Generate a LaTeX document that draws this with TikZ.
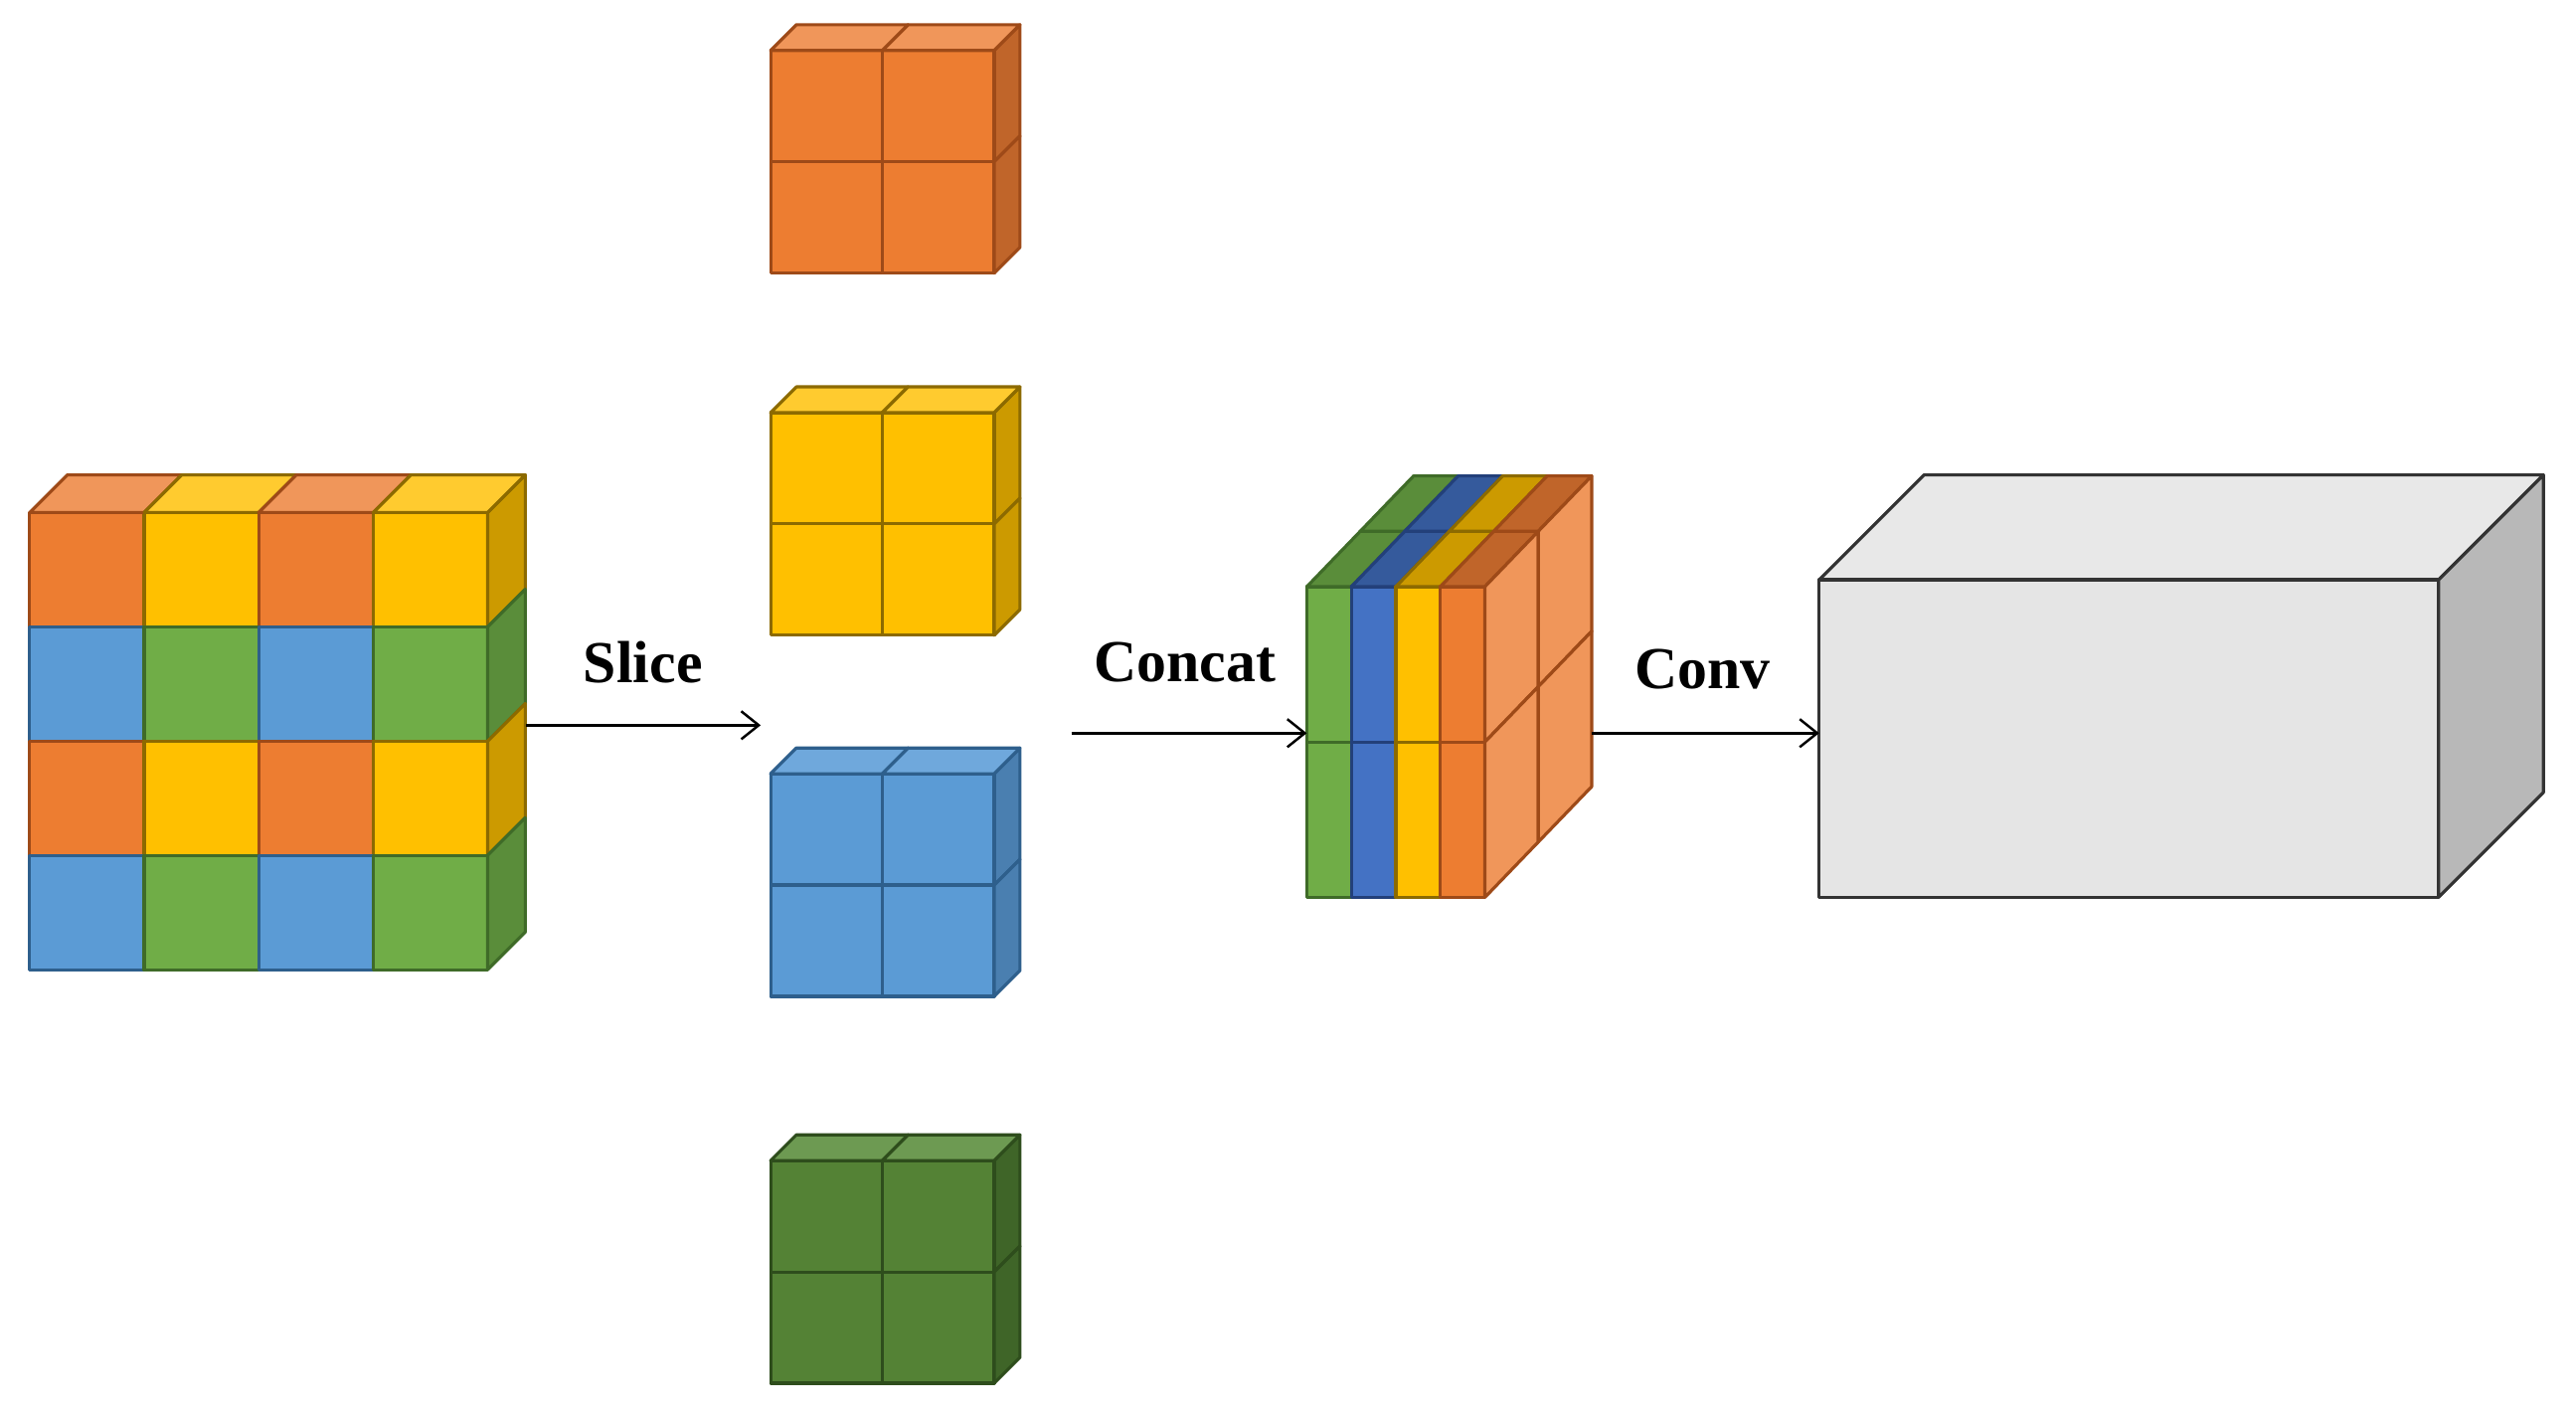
\documentclass[tikz,border=0pt]{standalone}
\usetikzlibrary{arrows.meta}
\usepackage{fontspec}
\setmainfont{Liberation Serif}
\begin{document}
\begin{tikzpicture}[x=0.01cm,y=-0.01cm]
\definecolor{OR}{HTML}{ED7D31}\definecolor{ORt}{HTML}{F0965A}\definecolor{ORs}{HTML}{C0652A}\definecolor{ORd}{HTML}{9E4A18}
\definecolor{YE}{HTML}{FFC000}\definecolor{YEt}{HTML}{FFCB2F}\definecolor{YEs}{HTML}{CC9A00}\definecolor{YEd}{HTML}{8C6A00}
\definecolor{BL}{HTML}{5B9BD5}\definecolor{BLt}{HTML}{6FA8DC}\definecolor{BLs}{HTML}{4A7FB0}\definecolor{BLd}{HTML}{2E5F8C}
\definecolor{GR}{HTML}{70AD47}\definecolor{GRt}{HTML}{7DB656}\definecolor{GRs}{HTML}{5A8D3A}\definecolor{GRd}{HTML}{3F6B28}
\definecolor{DG}{HTML}{548235}\definecolor{DGt}{HTML}{6D9A52}\definecolor{DGs}{HTML}{3F6528}\definecolor{DGd}{HTML}{2E4D1C}
\definecolor{CB}{HTML}{4472C4}\definecolor{CBt}{HTML}{355A9C}\definecolor{CBd}{HTML}{23407A}
\tikzset{face/.style={line width=0.9pt,line join=round},
 lbl/.style={font=\fontsize{17}{20}\selectfont\bfseries,inner sep=0pt},
 arr/.style={-{Straight Barb[length=5pt,width=8pt]},line width=0.7pt}}
\useasboundingbox (0,0) rectangle (2591,1424);
\begin{scope}[scale=0.995]
% left cube
\foreach \r/\a/\b in {0/OR/YE,1/BL/GR,2/OR/YE,3/BL/GR}{
 \foreach \c/\col in {0/\a,1/\b,2/\a,3/\b}{
  \draw[face,fill=\col,draw=\col d] (30+\c*115.75,518+\r*115.5) rectangle ++(115.75,115.5);
 }
 \draw[face,fill=\b s,draw=\b d] (493,518+\r*115.5) -- ++(38,-38) -- ++(0,115.5) -- ++(-38,38) -- cycle;
}
\foreach \c/\col in {0/OR,1/YE,2/OR,3/YE}{
 \draw[face,fill=\col t,draw=\col d] (30+\c*115.75,518) -- ++(38,-38) -- ++(115.75,0) -- ++(-38,38) -- cycle;
}
\coordinate (L) at (532,733);
% small cubes
\foreach \y/\col in {51/OR,417/YE,782/BL,1173/DG}{
 \foreach \i in {0,1}{\foreach \j in {0,1}{
  \draw[face,fill=\col,draw=\col d] (779+\i*113,\y+\j*112.5) rectangle ++(113,112.5);}
  \draw[face,fill=\col t,draw=\col d] (779+\i*113,\y) -- ++(26,-26) -- ++(113,0) -- ++(-26,26) -- cycle;
  \draw[face,fill=\col s,draw=\col d] (1005,\y+\i*112.5) -- ++(26,-26) -- ++(0,112.5) -- ++(-26,26) -- cycle;
 }
}
\coordinate (S1) at (769,733);
\coordinate (S2) at (1083,741);
% concat block
\foreach \i/\col/\tp in {0/GR/GRs,1/CB/CBt,2/YE/YEs,3/OR/ORs}{
 \foreach \j in {0,1}{
  \draw[face,fill=\col,draw=\col d] (1321+\i*45,593+\j*157) rectangle ++(45,157);
  \draw[face,fill=\tp,draw=\col d] (1321+\i*45+\j*54,593-\j*56) -- ++(54,-56) -- ++(45,0) -- ++(-54,56) -- cycle;
 }
}
\foreach \i in {0,1}{\foreach \j in {0,1}{
 \draw[face,fill=ORt,draw=ORd] (1501+\i*54,593-\i*56+\j*157) -- ++(54,-56) -- ++(0,157) -- ++(-54,56) -- cycle;
}}
\coordinate (C1) at (1321,741);
\coordinate (C2) at (1609,741);
% gray box
\draw[face,fill=black!9,draw=black!80] (1839,586) -- ++(106,-106) -- ++(626,0) -- ++(-106,106) -- cycle;
\draw[face,fill=black!28,draw=black!80] (2465,586) -- ++(106,-106) -- ++(0,321) -- ++(-106,106) -- cycle;
\draw[face,fill=black!10,draw=black!80] (1839,586) rectangle (2465,907);
\coordinate (G) at (1839,741);
% arrows
\draw[arr] (L) -- (S1);
\draw[arr] (S2) -- (C1);
\draw[arr] (C2) -- (G);
\node[lbl] (t1) at (650,669) {Slice};
\node[lbl] (t2) at (1198,669) {Concat};
\node[lbl] (t3) at (1721,676) {Conv};
\end{scope}
\end{tikzpicture}
\end{document}
